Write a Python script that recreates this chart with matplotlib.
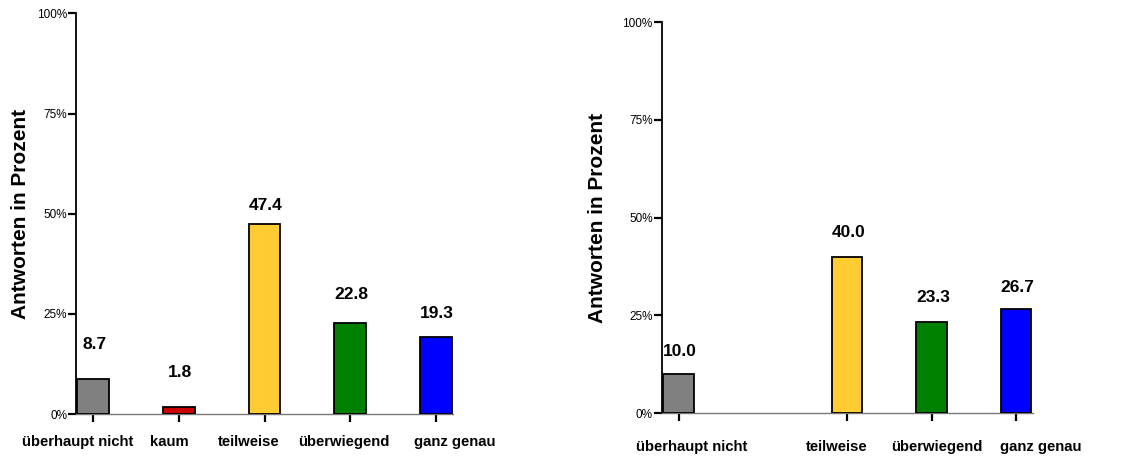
import matplotlib

matplotlib.use("Agg")
import matplotlib.pyplot as plt
import numpy as np

plt.rcParams["font.family"] = ["Liberation Sans", "DejaVu Sans"]

categories = ["überhaupt nicht", "kaum", "teilweise", "überwiegend", "ganz genau"]
colors = ["#808080", "#cc0000", "#ffcc33", "#008000", "#0000ff"]

left_values = [8.7, 1.8, 47.4, 22.8, 19.3]
right_values = [10.0, None, 40.0, 23.3, 26.7]  # "kaum" not answered

y_ticks = [0, 25, 50, 75, 100]
y_ticklabels = ["0%", "25%", "50%", "75%", "100%"]

# manual label nudges (pixels) as in the original layout
left_val_off = [35, 34, 19, 28, 23]
right_val_off = [22, 0, 24, 24, 21]
left_cat_dx = [-15, -10, -16, -6, 19]
right_cat_dx = [13, 0, -11, 5, 25]

PX = 0.72  # points per pixel at dpi 100


def draw_panel(fig, rect, values, val_off, cat_dx, cat_dy, width, labelpad):
    ax = fig.add_axes(rect)
    idx = [i for i, v in enumerate(values) if v is not None]
    x = np.array(idx, dtype=float)
    vals = [values[i] for i in idx]
    ax.bar(x, vals, width=width, color=[colors[i] for i in idx],
           edgecolor="black", linewidth=1.3, zorder=3)
    for i, v in zip(idx, vals):
        ax.annotate(f"{v:.1f}", (i, v), xytext=(1, val_off[i] * PX),
                    textcoords="offset points", ha="center", va="center",
                    fontsize=12.5, fontweight="bold")
    ax.set_xlim(-0.2, 4.2)
    ax.set_ylim(0, 100)
    ax.set_yticks(y_ticks)
    ax.set_yticklabels(y_ticklabels, fontsize=8.5)
    ax.set_xticks(x)
    ax.set_xticklabels([])
    for i in idx:
        ax.annotate(categories[i], (i, 0), xycoords=ax.get_xaxis_transform(),
                    xytext=(cat_dx[i] * PX, -cat_dy * PX), textcoords="offset points",
                    ha="center", va="center", fontsize=10.7, fontweight="bold",
                    annotation_clip=False)
    ax.spines["top"].set_visible(False)
    ax.spines["right"].set_visible(False)
    ax.spines["left"].set_linewidth(1.3)
    ax.spines["bottom"].set_linewidth(1.0)
    ax.spines["bottom"].set_color("#777777")
    ax.tick_params(axis="y", direction="out", length=6, width=1.6, pad=0.5)
    ax.tick_params(axis="x", direction="out", length=6, width=1.6)
    ax.set_ylabel("Antworten in Prozent", fontsize=15, fontweight="bold",
                  labelpad=labelpad)
    return ax


fig = plt.figure(figsize=(11.25, 4.59), dpi=100)
draw_panel(fig, [0.0676, 0.098, 0.3351, 0.8726], left_values, left_val_off,
           left_cat_dx, 28, 0.37, 5)
draw_panel(fig, [0.5882, 0.1002, 0.3298, 0.8512], right_values, right_val_off,
           right_cat_dx, 34, 0.36, 11)

fig.savefig("out.png", dpi=100)
